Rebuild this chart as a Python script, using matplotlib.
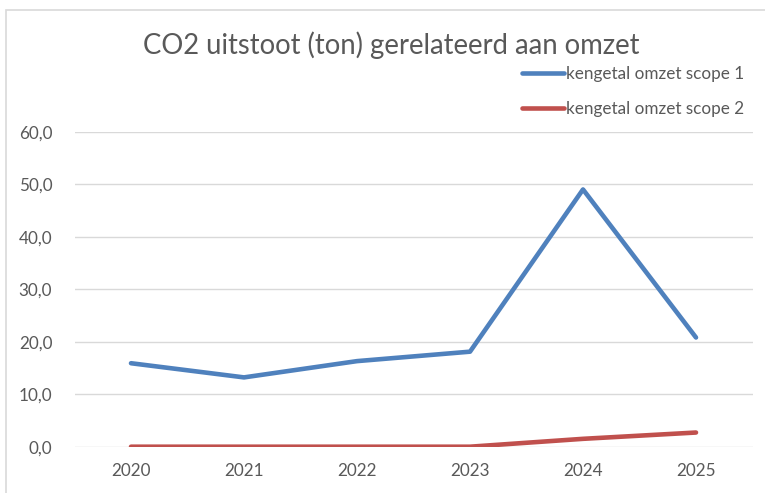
import matplotlib.pyplot as plt
from matplotlib.patches import Rectangle
from matplotlib.ticker import FuncFormatter

years = ['2020', '2021', '2022', '2023', '2024', '2025']
scope1 = [15.9, 13.2, 16.3, 18.1, 49.0, 20.8]
scope2 = [0.0, 0.0, 0.0, 0.0, 1.5, 2.7]
labels = ['kengetal omzet scope 1', 'kengetal omzet scope 2']

plt.rcParams['font.family'] = ['Lato', 'DejaVu Sans']

W, H = 765, 493
fig = plt.figure(figsize=(W / 100, H / 100), dpi=100)
ax = fig.add_axes([74.5 / W, 1 - 446.7 / H, (752.5 - 74.5) / W, (446.7 - 131.7) / H])

x = range(len(years))
l1, = ax.plot(x, scope1, color='#4F81BD', lw=3.3, solid_capstyle='round', solid_joinstyle='round')
l2, = ax.plot(x, scope2, color='#C0504D', lw=3.3, solid_capstyle='round', solid_joinstyle='round')

ax.set_xlim(-0.5, len(years) - 0.5)
ax.set_ylim(0, 60)
ax.set_yticks(range(0, 61, 10))
ax.yaxis.set_major_formatter(FuncFormatter(lambda v, p: f'{v:.1f}'.replace('.', ',')))
ax.set_xticks(list(x))
ax.set_xticklabels(years)
ax.tick_params(axis='both', length=0, labelsize=12.3, colors='#595959')
ax.tick_params(axis='y', pad=16)
ax.tick_params(axis='x', pad=12)
ax.grid(axis='y', color='#D9D9D9', lw=1)
ax.set_axisbelow(True)
for s in ax.spines.values():
    s.set_visible(False)

fig.text(391 / W, 1 - 45 / H, 'CO2 uitstoot (ton) gerelateerd aan omzet',
         ha='center', va='center', fontsize=19.8, color='#595959')

fig.legend([l1, l2], labels, loc='upper left', bbox_to_anchor=(507 / W, 1 - 51 / H),
           frameon=False, fontsize=12.3, handlelength=2.45, handletextpad=0.12,
           labelspacing=1.1, labelcolor='#595959')

fig.patches.append(Rectangle((6.5 / W, -0.1), 1.2, 1 - 10.5 / H + 0.1, transform=fig.transFigure,
                             fill=False, edgecolor='#D9D9D9', lw=1.2))

fig.savefig('out.png', dpi=100)
